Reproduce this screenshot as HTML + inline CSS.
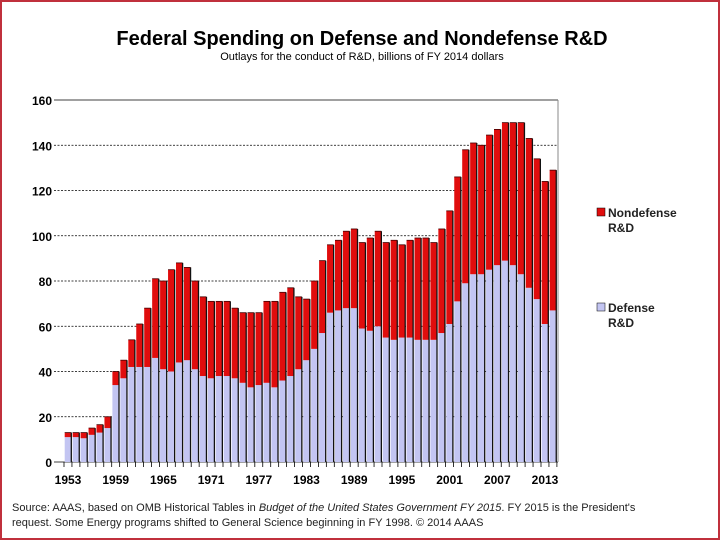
<!DOCTYPE html>
<html><head><meta charset="utf-8"><style>
body{margin:0;background:#fff}
#wrap{position:relative;width:720px;height:540px;overflow:hidden;box-sizing:border-box;border:2px solid #c0303c;font-family:"Liberation Sans",sans-serif}
text{font-family:"Liberation Sans",sans-serif}
</style></head><body>
<div id="wrap">
<svg id="chart" width="716" height="536" viewBox="2 2 716 536">
<text x="362" y="45" text-anchor="middle" font-size="20" font-weight="bold">Federal Spending on Defense and Nondefense R&amp;D</text>
<text x="362" y="60" text-anchor="middle" font-size="11">Outlays for the conduct of R&amp;D, billions of FY 2014 dollars</text>
<g id="grid"></g><g id="bars"></g><g id="axes"></g>
<rect x="597" y="208" width="8" height="8" fill="#e00d0d" stroke="#000" stroke-width="0.5"/>
<text x="608" y="217" font-size="12" font-weight="bold" fill="#222"><tspan x="608">Nondefense</tspan><tspan x="608" dy="15">R&amp;D</tspan></text>
<rect x="597" y="303" width="8" height="8" fill="#c3c5f2" stroke="#000" stroke-width="0.5"/>
<text x="608" y="312" font-size="12" font-weight="bold" fill="#222"><tspan x="608">Defense</tspan><tspan x="608" dy="15">R&amp;D</tspan></text>
<text x="12" y="511" font-size="11" fill="#222">Source: AAAS, based on OMB Historical Tables in <tspan font-style="italic">Budget of the United States Government FY 2015</tspan>. FY 2015 is the President's</text>
<text x="12" y="526" font-size="11" fill="#222">request. Some Energy programs shifted to General Science beginning in FY 1998. © 2014 AAAS</text>
</svg>
</div>
<script>
const years=[];for(let y=1953;y<=2014;y++)years.push(y);
const defense=[11,11,10.5,12,13,15,34,37,42,42,42,46,41,40,44,45,41,38,37,38,38,37,35,33,34,35,33,36,38,41,45,
50,57,66,67,68,68,59,58,60,55,54,55,55,54,54,54,57,61,71,79,83,83,85,87,89,87,83,77,72,61,67];
const total=[13,13,13,15,16.5,20,40,45,54,61,68,81,80,85,88,86,80,73,71,71,71,68,66,66,66,71,71,75,77,73,72,
80,89,96,98,102,103,97,99,102,97,98,96,98,99,99,97,103,111,126,138,141,140,144.5,147,150,150,150,143,134,124,129];
const yTicks=[0,20,40,60,80,100,120,140,160];
const xLabelYears=[1953,1959,1965,1971,1977,1983,1989,1995,2001,2007,2013];
const NS='http://www.w3.org/2000/svg';
const x0=64,step=7.95,bw=6.6;
function xs(i){return x0+i*step;}
function ys(v){return 462-v*(362/160);}
function mk(t,a,p){const e=document.createElementNS(NS,t);for(const k in a)e.setAttribute(k,a[k]);p.appendChild(e);return e;}
const grid=document.getElementById('grid'),bars=document.getElementById('bars'),axes=document.getElementById('axes');
yTicks.forEach(v=>{
 const g=mk('line',{x1:54,x2:558,y1:ys(v),y2:ys(v),stroke:'#000','stroke-width':0.8,'stroke-dasharray':(v==160||v==0)?'':'2,1.5'},grid);
 
 
 const t=mk('text',{x:52,y:ys(v)+5,'text-anchor':'end','font-size':12,'font-weight':'bold'},axes);t.textContent=v;
 
 
});
mk('line',{x1:558,x2:558,y1:ys(160),y2:462,stroke:'#888','stroke-width':1},grid);
years.forEach((yr,i)=>{
 const x=xs(i)+0.7;
 const d=mk('rect',{x:x,y:ys(defense[i]),width:bw,height:462-ys(defense[i]),fill:'#c3c5f2'},bars);
 
 
 const n=mk('rect',{x:x,y:ys(total[i]),width:bw,height:ys(defense[i])-ys(total[i]),fill:'#e00d0d'},bars);
 
 
 mk('line',{x1:x+bw,x2:x+bw,y1:ys(total[i]),y2:462,stroke:'#111','stroke-width':1.3},bars);
 mk('line',{x1:x,x2:x+bw,y1:ys(total[i]),y2:ys(total[i]),stroke:'#400','stroke-width':0.8},bars);
 mk('line',{x1:xs(i),x2:xs(i),y1:462,y2:467,stroke:'#000','stroke-width':0.8},axes);
});
mk('line',{x1:xs(62),x2:xs(62),y1:462,y2:467,stroke:'#000','stroke-width':0.8},axes);
xLabelYears.forEach(yr=>{
 const i=years.indexOf(yr);
 const t=mk('text',{x:xs(i)+4,y:484,'text-anchor':'middle','font-size':12,'font-weight':'bold'},axes);t.textContent=yr;
 
 
});
</script>
</body></html>
